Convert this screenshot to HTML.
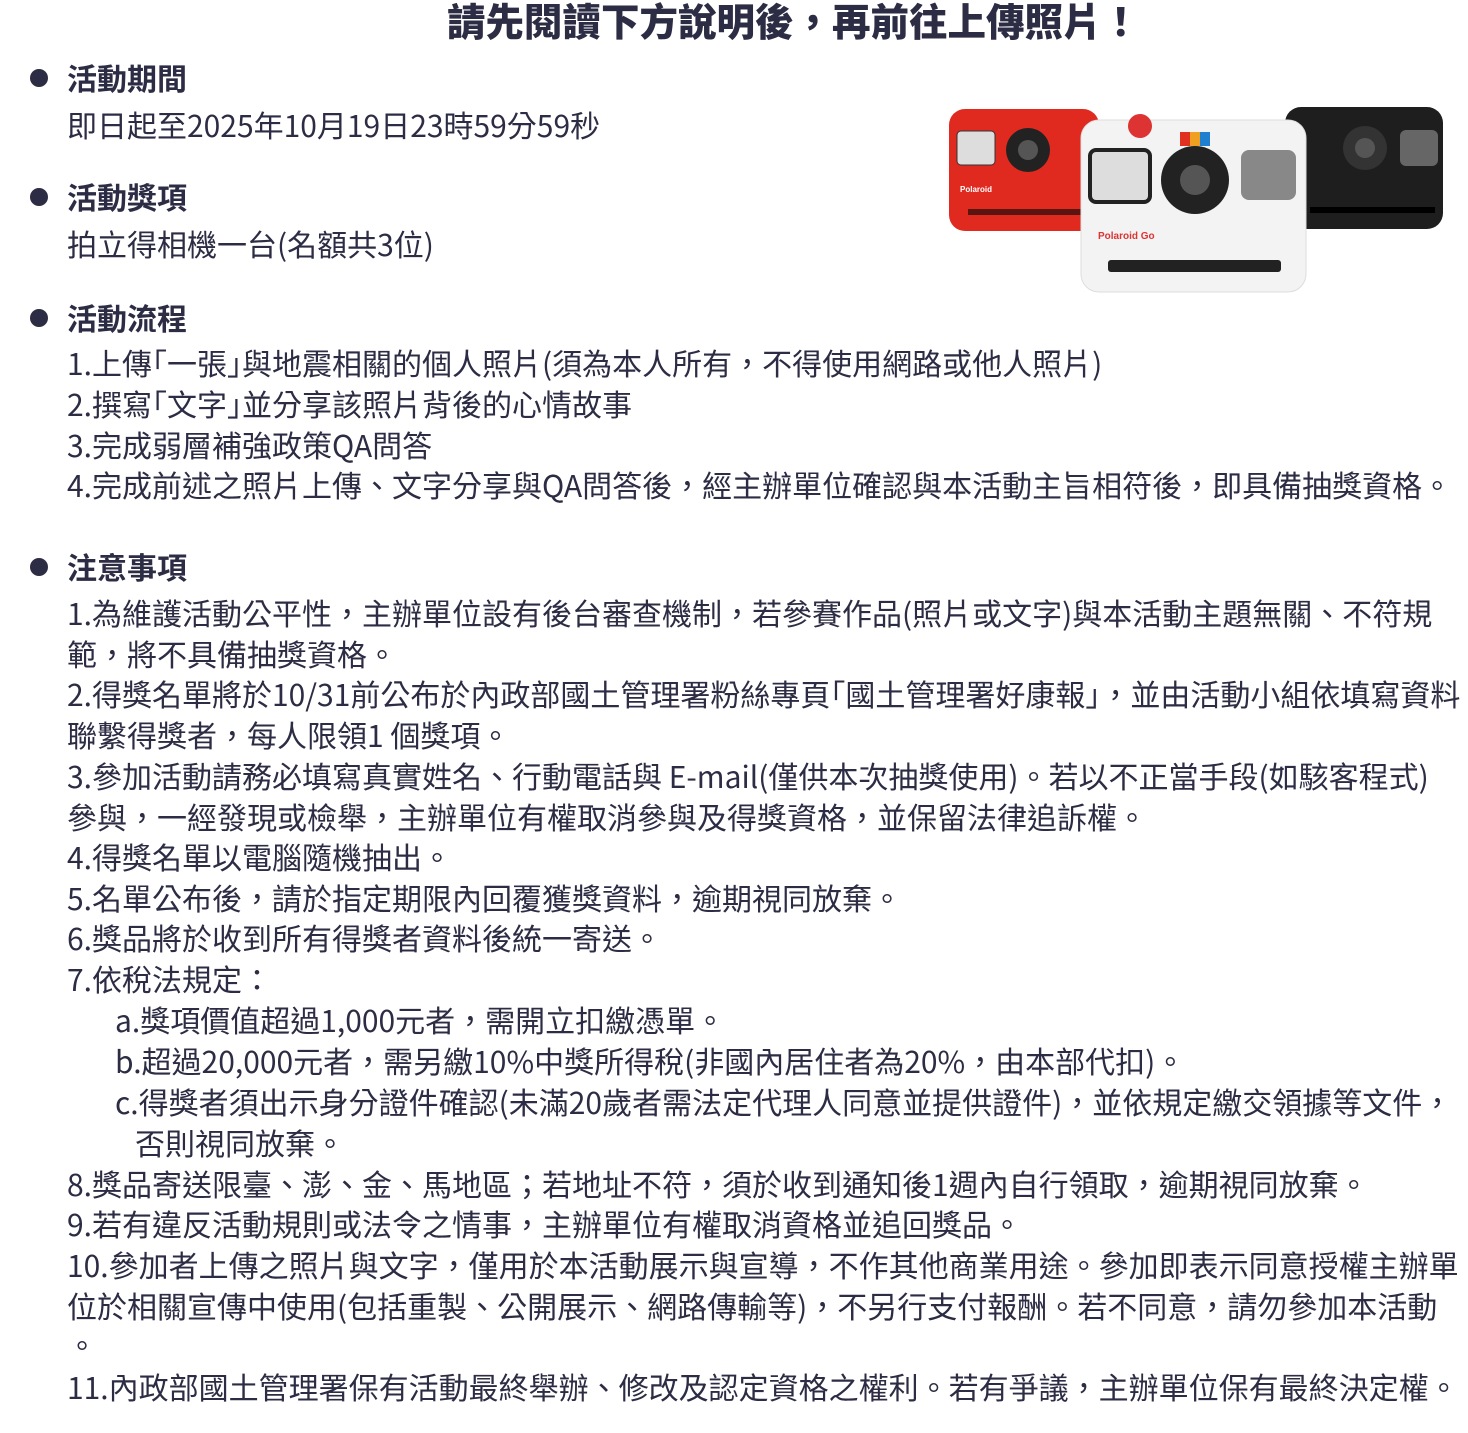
<!DOCTYPE html>
<html><head><meta charset="utf-8"><style>
body{margin:0;width:1468px;height:1433px;background:#fff;position:relative;overflow:hidden;font-family:"Noto Sans CJK TC","Liberation Sans",sans-serif;color:#2c2c44}
.l{position:absolute;white-space:nowrap;font-size:30px;line-height:40px;left:67px}
.h{font-weight:bold}
.d{position:absolute;left:30px;width:18px;height:18px;border-radius:50%;background:#2c2c44}
.t{position:absolute;left:0;width:1587px;text-align:center;top:-3px;font-size:38.5px;line-height:46px;font-weight:900;white-space:nowrap}
</style></head><body>
<div class="t">請先閱讀下方說明後，再前往上傳照片！</div>
<div class="d" style="top:69px"></div><div class="l h" style="top:57px">活動期間</div>
<div class="l" style="top:104px">即日起至2025年10月19日23時59分59秒</div>
<div class="d" style="top:188px"></div><div class="l h" style="top:176px">活動獎項</div>
<div class="l" style="top:223px">拍立得相機一台(名額共3位)</div>
<div class="d" style="top:309px"></div><div class="l h" style="top:297px">活動流程</div>
<div class="l" style="top:342px">1.上傳｢一張｣與地震相關的個人照片(須為本人所有，不得使用網路或他人照片)</div>
<div class="l" style="top:383px">2.撰寫｢文字｣並分享該照片背後的心情故事</div>
<div class="l" style="top:424px">3.完成弱層補強政策QA問答</div>
<div class="l" style="top:464px">4.完成前述之照片上傳、文字分享與QA問答後，經主辦單位確認與本活動主旨相符後，即具備抽獎資格。</div>
<div class="d" style="top:558px"></div><div class="l h" style="top:546px">注意事項</div>
<div class="l" style="top:592px">1.為維護活動公平性，主辦單位設有後台審查機制，若參賽作品(照片或文字)與本活動主題無關、不符規</div>
<div class="l" style="top:633px">範，將不具備抽獎資格。</div>
<div class="l" style="top:673px">2.得獎名單將於10/31前公布於內政部國土管理署粉絲專頁｢國土管理署好康報｣，並由活動小組依填寫資料</div>
<div class="l" style="top:714px">聯繫得獎者，每人限領1 個獎項。</div>
<div class="l" style="top:755px">3.參加活動請務必填寫真實姓名、行動電話與 E-mail(僅供本次抽獎使用)。若以不正當手段(如駭客程式)</div>
<div class="l" style="top:796px">參與，一經發現或檢舉，主辦單位有權取消參與及得獎資格，並保留法律追訴權。</div>
<div class="l" style="top:836px">4.得獎名單以電腦隨機抽出。</div>
<div class="l" style="top:877px">5.名單公布後，請於指定期限內回覆獲獎資料，逾期視同放棄。</div>
<div class="l" style="top:917px">6.獎品將於收到所有得獎者資料後統一寄送。</div>
<div class="l" style="top:958px">7.依稅法規定：</div>
<div class="l" style="top:999px;left:115px">a.獎項價值超過1,000元者，需開立扣繳憑單。</div>
<div class="l" style="top:1040px;left:115px">b.超過20,000元者，需另繳10%中獎所得稅(非國內居住者為20%，由本部代扣)。</div>
<div class="l" style="top:1081px;left:115px">c.得獎者須出示身分證件確認(未滿20歲者需法定代理人同意並提供證件)，並依規定繳交領據等文件，</div>
<div class="l" style="top:1122px;left:135px">否則視同放棄。</div>
<div class="l" style="top:1163px">8.獎品寄送限臺、澎、金、馬地區；若地址不符，須於收到通知後1週內自行領取，逾期視同放棄。</div>
<div class="l" style="top:1203px">9.若有違反活動規則或法令之情事，主辦單位有權取消資格並追回獎品。</div>
<div class="l" style="top:1244px">10.參加者上傳之照片與文字，僅用於本活動展示與宣導，不作其他商業用途。參加即表示同意授權主辦單</div>
<div class="l" style="top:1285px">位於相關宣傳中使用(包括重製、公開展示、網路傳輸等)，不另行支付報酬。若不同意，請勿參加本活動</div>
<div class="l" style="top:1324px">。</div>
<div class="l" style="top:1366px">11.內政部國土管理署保有活動最終舉辦、修改及認定資格之權利。若有爭議，主辦單位保有最終決定權。</div>
<svg style="position:absolute;left:940px;top:95px" width="510" height="205" viewBox="0 0 510 205">
<rect x="9" y="14" width="150" height="122" rx="16" fill="#e02a20"/>
<rect x="28" y="114" width="130" height="6" fill="#5a1510"/>
<rect x="17" y="36" width="38" height="34" rx="4" fill="#ddd" stroke="#333"/>
<circle cx="88" cy="55" r="22" fill="#222"/><circle cx="88" cy="55" r="10" fill="#555"/>
<text x="20" y="97" font-size="8" fill="#fff" font-family="Liberation Sans" font-weight="bold">Polaroid</text>
<rect x="345" y="12" width="158" height="122" rx="16" fill="#1e1e1e"/>
<rect x="370" y="112" width="125" height="6" fill="#000"/>
<circle cx="425" cy="53" r="22" fill="#333"/><circle cx="425" cy="53" r="10" fill="#555"/>
<rect x="460" y="35" width="38" height="36" rx="6" fill="#666"/>
<rect x="141" y="25" width="225" height="172" rx="18" fill="#f3f3f3" stroke="#ddd"/>
<rect x="168" y="165" width="173" height="12" rx="3" fill="#222"/>
<rect x="150" y="55" width="60" height="52" rx="6" fill="#ddd" stroke="#222" stroke-width="4"/>
<circle cx="255" cy="85" r="34" fill="#222"/><circle cx="255" cy="85" r="15" fill="#555"/>
<rect x="240" y="37" width="30" height="14" fill="#f0a020"/><rect x="240" y="37" width="10" height="14" fill="#e03020"/><rect x="260" y="37" width="10" height="14" fill="#2080d0"/>
<rect x="301" y="55" width="55" height="50" rx="8" fill="#888"/>
<circle cx="200" cy="31" r="12" fill="#d33"/>
<text x="158" y="144" font-size="10" fill="#d33" font-family="Liberation Sans" font-weight="bold">Polaroid Go</text>
</svg>
</body></html>
